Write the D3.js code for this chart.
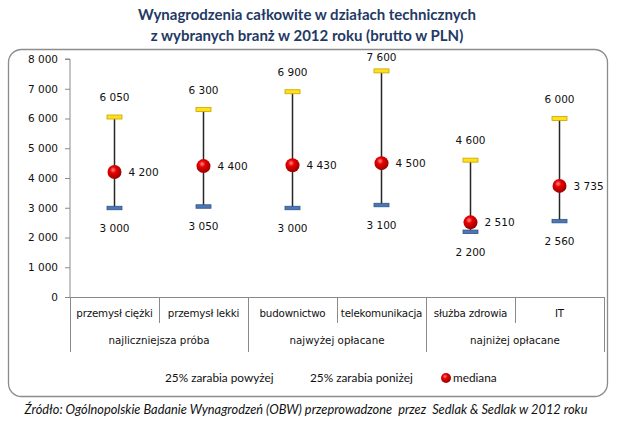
<!DOCTYPE html>
<html><head><meta charset="utf-8">
<script src="https://cdn.jsdelivr.net/npm/d3@7"></script>
<style>body{margin:0;background:#fff}svg{display:block}</style>
</head><body>
<svg id="c" width="620" height="430"></svg>
<script>
const categories = ["przemysł ciężki","przemysł lekki","budownictwo","telekomunikacja","służba zdrowia","IT"];
const groups = ["najliczniejsza próba","najwyżej opłacane","najniżej opłacane"];
const upperValues = [6050, 6300, 6900, 7600, 4600, 6000];
const medianValues = [4200, 4400, 4430, 4500, 2510, 3735];
const lowerValues = [3000, 3050, 3000, 3100, 2200, 2560];
const yTicks = [0,1000,2000,3000,4000,5000,6000,7000,8000];
const legendLabels = ["25% zarabia powyżej","25% zarabia poniżej","mediana"];

(function(){
const svg = d3.select("#c");
const loc = d3.formatLocale({thousands:"\u00a0", grouping:[3], decimal:",", currency:["",""]});
const fmt = loc.format(",d");

const defs = svg.append("defs");
const rg = defs.append("radialGradient").attr("id","ball").attr("cx","40%").attr("cy","35%").attr("r","65%");
rg.append("stop").attr("offset","0%").attr("stop-color","#ff8a8a");
rg.append("stop").attr("offset","35%").attr("stop-color","#e80000");
rg.append("stop").attr("offset","100%").attr("stop-color","#9a0000");

// border
svg.append("rect").attr("x",8.5).attr("y",49.5).attr("width",599).attr("height",347).attr("rx",13)
  .attr("fill","#fff").attr("stroke","#8c8c8c").attr("stroke-width",1.3);

// title
const title = svg.append("text").attr("text-anchor","middle").attr("fill","#1f3a64")
  .style("font-family","Lato, 'Open Sans', sans-serif").style("font-weight","bold").style("font-size","15px");
title.append("tspan").attr("x",307).attr("y",20).text("Wynagrodzenia całkowite w działach technicznych");
title.append("tspan").attr("x",307).attr("y",41).text("z wybranych branż w 2012 roku (brutto w PLN)");

const pLeft = 70, pRight = 604, pTop = 59, pBottom = 297;
const x = d3.scaleBand().domain(categories).range([pLeft,pRight]).padding(0);
const y = d3.scaleLinear().domain([0,8000]).range([pBottom,pTop]);

const tickFont = "'DejaVu Sans', Verdana, sans-serif";
const yAxis = svg.append("g").attr("transform",`translate(${pLeft},0)`)
  .call(d3.axisLeft(y).tickValues(yTicks).tickFormat(fmt).tickSize(5).tickPadding(7));
yAxis.select(".domain").attr("stroke","#8a8a8a").attr("d",`M-5,${pTop}H0V${pBottom}`);
yAxis.selectAll(".tick line").attr("stroke","#8a8a8a");
yAxis.selectAll(".tick text").style("font-family",tickFont).style("font-size","10.5px").attr("fill","#111");

// category axis table
const axG = svg.append("g").attr("stroke","#8a8a8a").attr("stroke-width",1);
axG.append("line").attr("x1",pLeft).attr("x2",pRight).attr("y1",pBottom+0.5).attr("y2",pBottom+0.5);
categories.forEach((c,i)=>{
  const xs = x(c);
  if (i>0) {
    const long = i%2===0;
    axG.append("line").attr("x1",Math.round(xs)+0.5).attr("x2",Math.round(xs)+0.5)
      .attr("y1",pBottom).attr("y2", long ? 352 : 323);
  }
});
axG.append("line").attr("x1",pLeft+0.5).attr("x2",pLeft+0.5).attr("y1",pBottom).attr("y2",352);
axG.append("line").attr("x1",pRight+0.5).attr("x2",pRight+0.5).attr("y1",pBottom).attr("y2",352);

svg.append("g").selectAll("text").data(categories).join("text")
  .attr("x",d=>x(d)+x.bandwidth()/2).attr("y",317).attr("text-anchor","middle")
  .style("font-family",tickFont).style("font-size","10.3px").style("letter-spacing","-0.2px").attr("fill","#111").text(d=>d);
svg.append("g").selectAll("text").data(groups).join("text")
  .attr("x",(d,i)=>x(categories[i*2]) + x.bandwidth()).attr("y",344).attr("text-anchor","middle")
  .style("font-family",tickFont).style("font-size","10.3px").attr("fill","#111").text(d=>d);

// series
const g = svg.append("g");
categories.forEach((c,i)=>{
  const cx = x(c)+x.bandwidth()/2;
  g.append("line").attr("x1",cx).attr("x2",cx).attr("y1",y(upperValues[i])).attr("y2",y(lowerValues[i]))
    .attr("stroke","#262626").attr("stroke-width",1.5);
  g.append("rect").attr("x",cx-7.5).attr("y",y(upperValues[i])-2).attr("width",15).attr("height",4)
    .attr("fill","#ffe11a").attr("stroke","#c9a300").attr("stroke-width",0.8);
  g.append("rect").attr("x",cx-7.5).attr("y",y(lowerValues[i])-1.5).attr("width",15).attr("height",3.5)
    .attr("fill","#4a78b5").attr("stroke","#2f5487").attr("stroke-width",0.8);
  g.append("circle").attr("cx",cx).attr("cy",y(medianValues[i])).attr("r",7).attr("fill","url(#ball)");
  g.append("text").attr("x",cx).attr("y",Math.max(y(upperValues[i])-16, 61)).attr("text-anchor","middle")
    .style("font-family",tickFont).style("font-size","10.5px").attr("fill","#111").text(fmt(upperValues[i]));
  g.append("text").attr("x",cx).attr("y",y(lowerValues[i])+24).attr("text-anchor","middle")
    .style("font-family",tickFont).style("font-size","10.5px").attr("fill","#111").text(fmt(lowerValues[i]));
  g.append("text").attr("x",cx+14).attr("y",y(medianValues[i])+4).attr("text-anchor","start")
    .style("font-family",tickFont).style("font-size","10.5px").attr("fill","#111").text(fmt(medianValues[i]));
});

// legend
const lf = "Lato, 'Open Sans', sans-serif";
const leg = svg.append("g").style("font-family",lf).style("font-size","11.8px").attr("fill","#111");
leg.append("text").attr("x",165).attr("y",382).text(legendLabels[0]);
leg.append("text").attr("x",310).attr("y",382).text(legendLabels[1]);
leg.append("circle").attr("cx",446).attr("cy",378).attr("r",5).attr("fill","url(#ball)");
leg.append("text").attr("x",453).attr("y",382).text(legendLabels[2]);

// source
svg.append("text").attr("x",306).attr("y",414).attr("text-anchor","middle")
  .style("font-family",lf).style("font-style","italic").style("font-size","12.8px").style("white-space","pre").attr("fill","#111")
  .text("Źródło: Ogólnopolskie Badanie Wynagrodzeń (OBW) przeprowadzone  przez  Sedlak & Sedlak w 2012 roku");
})();
</script>
</body></html>
